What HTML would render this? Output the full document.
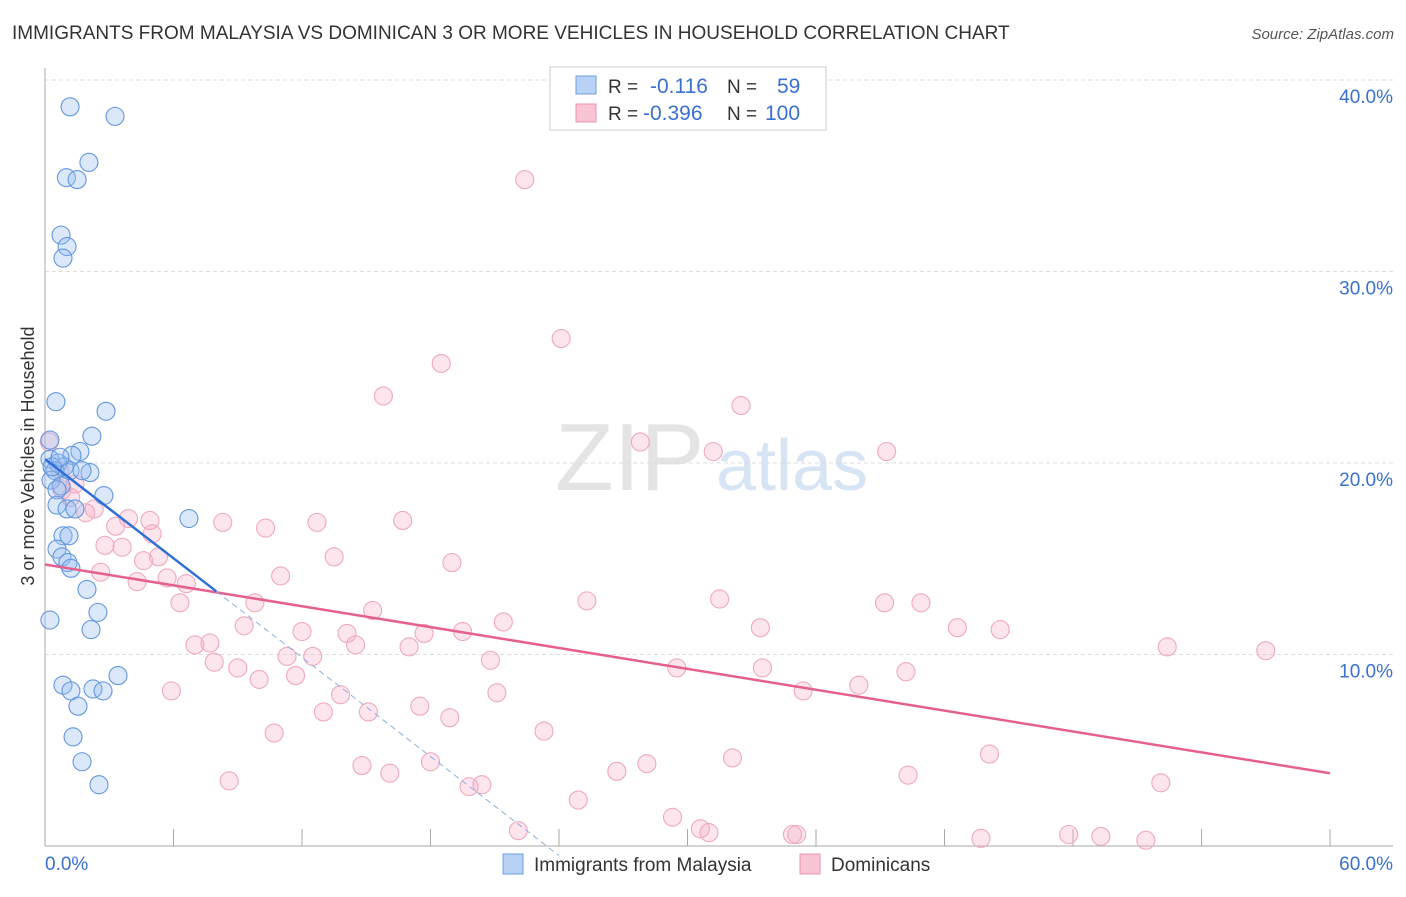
<!DOCTYPE html>
<html><head><meta charset="utf-8"><style>
body{margin:0;background:#fff;font-family:"Liberation Sans",sans-serif;}
svg text{font-family:"Liberation Sans",sans-serif;}
</style></head><body>
<svg width="1406" height="892" xmlns="http://www.w3.org/2000/svg">
<text x="12" y="39" font-size="19" fill="#333">IMMIGRANTS FROM MALAYSIA VS DOMINICAN 3 OR MORE VEHICLES IN HOUSEHOLD CORRELATION CHART</text>
<text x="1394" y="39" font-size="15" fill="#555" font-style="italic" text-anchor="end">Source: ZipAtlas.com</text>
<text x="555" y="490" font-size="96" fill="#e4e4e4" font-family="Liberation Serif">ZIP</text>
<text x="716" y="490" font-size="72" fill="#d6e4f4">atlas</text>
<g id="grid"></g>
<g id="axes"></g>
<g id="pts"></g>
<g id="trend"></g>
<text transform="translate(34,456) rotate(-90)" font-size="18" fill="#333" text-anchor="middle">3 or more Vehicles in Household</text>
<g>
<rect x="550" y="67" width="276" height="63" fill="#fff" stroke="#ccc"/>
<rect x="576" y="76" width="20" height="18" fill="#b7d2f5" stroke="#6c9fe0"/>
<rect x="576" y="104" width="20" height="18" fill="#f9c4d3" stroke="#ec94b0"/>
<text x="608" y="93" font-size="19" fill="#333">R = <tspan x="650" fill="#3a70d0" font-size="21">-0.116</tspan><tspan x="727">N = </tspan><tspan x="777" fill="#3a70d0" font-size="21">59</tspan></text>
<text x="608" y="120" font-size="19" fill="#333">R = <tspan x="643" fill="#3a70d0" font-size="21">-0.396</tspan><tspan x="727">N = </tspan><tspan x="765" fill="#3a70d0" font-size="21">100</tspan></text>
</g>
<g>
<rect x="503" y="854" width="20" height="20" fill="#b7d2f5" stroke="#6c9fe0"/>
<text x="534" y="871" font-size="19" fill="#333">Immigrants from Malaysia</text>
<rect x="800" y="854" width="20" height="20" fill="#f9c4d3" stroke="#ec94b0"/>
<text x="831" y="871" font-size="19" fill="#333">Dominicans</text>
</g>
</svg>
<script>
const yTicks=[10,20,30,40];
const xTickCount=10;
const blueX=[1.17,3.27,2.05,1.0,1.5,0.75,1.03,0.84,0.51,2.85,2.19,0.23,1.63,1.26,0.23,0.61,0.89,0.47,1.17,2.1,1.73,0.28,0.75,0.56,2.75,0.56,1.03,1.4,0.84,1.12,0.56,0.79,1.07,1.21,1.96,2.47,2.15,0.23,6.72,0.84,1.21,3.41,2.24,2.71,1.54,1.31,1.73,2.52,0.33,0.7];
const blueY=[38.6,38.1,35.7,34.9,34.8,31.9,31.3,30.7,23.2,22.7,21.4,21.2,20.6,20.4,20.2,20.0,19.8,19.6,19.6,19.5,19.6,19.1,18.8,18.6,18.3,17.8,17.6,17.6,16.2,16.2,15.5,15.1,14.8,14.5,13.4,12.2,11.3,11.8,17.1,8.4,8.1,8.9,8.2,8.1,7.3,5.7,4.4,3.2,19.8,20.3];
const pinkX=[22.4,24.1,18.5,15.8,32.5,27.8,31.2,39.3,0.2,0.8,1.2,1.9,2.3,3.9,3.3,2.8,3.6,5.0,8.3,10.3,12.7,16.7,4.6,5.3,13.5,2.6,4.3,5.7,6.6,11.0,19.0,6.3,9.8,15.3,25.3,31.5,39.2,40.9,44.6,42.6,33.4,21.4,17.7,19.5,14.1,12.0,9.3,7.0,7.7,14.5,17.0,11.3,12.5,7.9,9.0,20.8,29.5,33.5,40.2,52.4,57.0,5.9,10.0,11.7,13.8,21.1,35.4,38.0,13.0,15.1,17.5,18.9,10.7,23.3,14.8,16.1,18.0,19.8,20.4,26.7,28.1,32.1,40.3,44.1,52.1,8.6,24.9,29.3,22.1,30.6,31.0,34.9,35.1,43.7,47.8,49.3,51.4,4.9,0.7,1.4];
const pinkY=[34.8,26.5,25.2,23.5,23.0,21.1,20.6,20.6,21.1,18.6,18.2,17.4,17.6,17.1,16.7,15.7,15.6,16.3,16.9,16.6,16.9,17.0,14.9,15.1,15.1,14.3,13.8,14.0,13.7,14.1,14.8,12.7,12.7,12.3,12.8,12.9,12.7,12.7,11.3,11.4,11.4,11.7,11.1,11.2,11.1,11.2,11.5,10.5,10.6,10.5,10.4,9.9,9.9,9.6,9.3,9.7,9.3,9.3,9.1,10.4,10.2,8.1,8.7,8.9,7.9,8.0,8.1,8.4,7.0,7.0,7.3,6.7,5.9,6.0,4.2,3.8,4.4,3.1,3.2,3.9,4.3,4.6,3.7,4.8,3.3,3.4,2.4,1.5,0.8,0.9,0.7,0.6,0.6,0.4,0.6,0.5,0.3,17.0,19.6,18.9];
const pinkTrend=[14.7,3.8];
const blueTrend=[20.2,13.3,8.0,24.0];
const NS="http://www.w3.org/2000/svg";
const xs=v=>45+v*21.417, ys=v=>846-v*19.15;
function mk(t,a,p){const e=document.createElementNS(NS,t);for(const k in a)e.setAttribute(k,a[k]);document.getElementById(p).appendChild(e);return e;}
yTicks.forEach(t=>{
 const l=mk('line',{x1:45,x2:1393,y1:ys(t),y2:ys(t),stroke:'#ddd','stroke-dasharray':'4,3'},'grid');
 
 
 const tx=mk('text',{x:1393,y:ys(t)+23,'font-size':19,fill:'#3a70d0','text-anchor':'end'},'grid');
 tx.textContent=t.toFixed(1)+'%';
 
 
});
mk('line',{x1:45,x2:45,y1:68,y2:846,stroke:'#aaa'},'axes');
mk('line',{x1:45,x2:1393,y1:846,y2:846,stroke:'#aaa'},'axes');
for(let i=1;i<=xTickCount;i++){const x=xs(i*6);const t=mk('line',{x1:x,x2:x,y1:829,y2:846,stroke:'#aaa'},'axes');
 
 }
let a=mk('text',{x:45,y:870,'font-size':19,fill:'#3a70d0'},'axes');a.textContent='0.0%';


a=mk('text',{x:1393,y:870,'font-size':19,fill:'#3a70d0','text-anchor':'end'},'axes');a.textContent='60.0%';


pinkX.forEach((v,i)=>{const c=mk('circle',{cx:xs(v),cy:ys(pinkY[i]),r:9,fill:'rgba(246,170,195,0.3)',stroke:'#efa8bf','stroke-width':1.1},'pts');
 
 });
blueX.forEach((v,i)=>{const c=mk('circle',{cx:xs(v),cy:ys(blueY[i]),r:9,fill:'rgba(150,190,240,0.35)',stroke:'#6497de','stroke-width':1.1},'pts');
 
 });
let tl=mk('line',{x1:xs(0),y1:ys(pinkTrend[0]),x2:xs(60),y2:ys(pinkTrend[1]),stroke:'#e5608f','stroke-width':2.5},'trend');


tl=mk('line',{x1:xs(0),y1:ys(blueTrend[0]),x2:xs(blueTrend[2]),y2:ys(blueTrend[1]),stroke:'#2f6fd8','stroke-width':2.5},'trend');


const slope=(blueTrend[1]-blueTrend[0])/blueTrend[2];
tl=mk('line',{x1:xs(blueTrend[2]),y1:ys(blueTrend[1]),x2:xs(blueTrend[3]),y2:ys(blueTrend[0]+slope*blueTrend[3]),stroke:'#8fb0e0','stroke-width':1,'stroke-dasharray':'6,4'},'trend');


</script>
</body></html>
